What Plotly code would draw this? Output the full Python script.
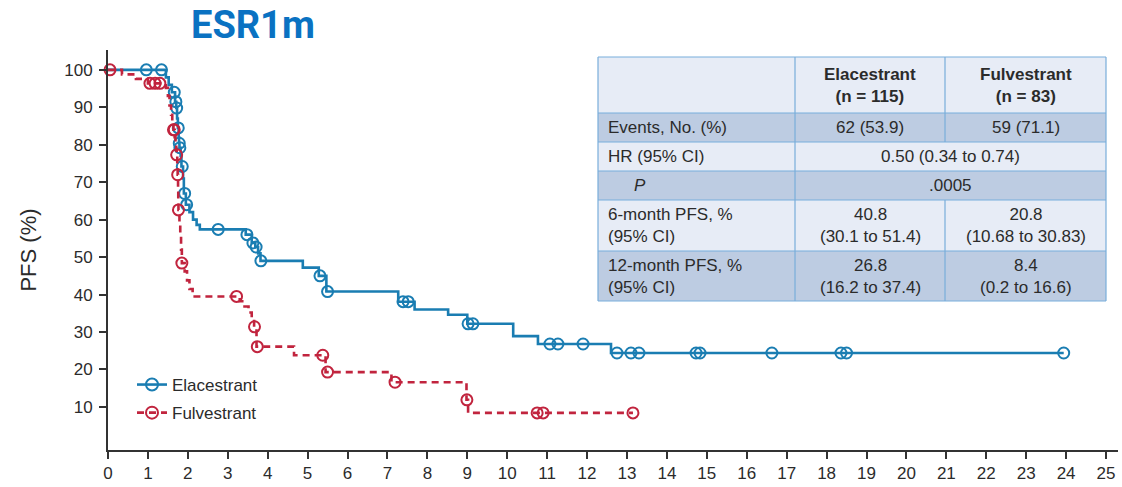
import numpy as np
import plotly.graph_objects as go

# Kaplan-Meier step points (months, % progression-free)
ela_times = [0, 1.45, 1.52, 1.60, 1.68, 1.71, 1.73, 1.75, 1.77, 1.78, 1.79, 1.82, 1.84,
             1.88, 1.90, 1.95, 2.04, 2.13, 2.22, 2.30, 3.45, 3.60, 3.69, 3.76, 3.82,
             4.88, 5.28, 5.47, 7.27, 7.68, 8.52, 9.00, 10.15, 10.77, 12.60, 23.94]
ela_surv = [100, 98, 96, 94, 91.5, 89.8, 87, 84.5, 82, 80.4, 79.2, 77, 74.2,
            71, 67, 64, 62, 60, 58.6, 57.4, 56, 53.8, 52.7, 51, 49,
            47.2, 45.0, 40.8, 38.1, 36.0, 34.6, 32.2, 28.9, 26.8, 24.4, 24.4]
ela_censor = [0.96, 1.34, 1.66, 1.70, 1.72, 1.76, 1.785, 1.80, 1.86, 1.92, 1.97, 2.76,
              3.48, 3.63, 3.71, 3.83, 5.31, 5.50, 7.39, 7.52, 9.02, 9.14, 11.07, 11.27,
              11.90, 12.75, 13.10, 13.30, 14.73, 14.83, 16.63, 18.36, 18.50, 23.94]

ful_times = [0, 0.35, 0.70, 1.00, 1.45, 1.50, 1.54, 1.58, 1.61, 1.64, 1.67, 1.69, 1.71,
             1.72, 1.735, 1.745, 1.755, 1.76, 1.765, 1.79, 1.81, 1.83, 1.85, 1.92, 1.98,
             2.04, 2.12, 3.30, 3.42, 3.52, 3.60, 3.66, 3.72, 4.66, 5.45, 7.10, 8.98,
             9.02, 13.15]
ful_surv = [100, 98.8, 97.6, 96.4, 95.2, 93, 90.5, 88, 85.8, 84, 82, 80.2, 78.5,
            77.3, 74.5, 72, 68, 65, 62.6, 59, 55.5, 52, 48.4, 46.2, 43.8,
            41.5, 39.5, 38.2, 36.8, 35.2, 33.5, 31.4, 26.1, 23.8, 19.3, 16.6, 11.9,
            8.4, 8.4]
ful_censor = [0.05, 1.05, 1.18, 1.30, 1.64, 1.66, 1.72, 1.745, 1.765, 1.85, 3.22,
              3.67, 3.74, 5.38, 5.50, 7.19, 8.99, 10.75, 10.90, 13.15]

arm_names = ["Elacestrant", "Fulvestrant"]
x_ticks = list(range(0, 26))
y_ticks = list(range(10, 101, 10))

# Summary table
table_header = ["", "<b>Elacestrant</b><br><b>(n = 115)</b>", "<b>Fulvestrant</b><br><b>(n = 83)</b>"]
table_rows = [
    ["Events, No. (%)", "62 (53.9)", "59 (71.1)"],
    ["HR (95% CI)", "0.50 (0.34 to 0.74)", None],
    ["<i>P</i>", ".0005", None],
    ["6-month PFS, %<br>(95% CI)", "40.8<br>(30.1 to 51.4)", "20.8<br>(10.68 to 30.83)"],
    ["12-month PFS, %<br>(95% CI)", "26.8<br>(16.2 to 37.4)", "8.4<br>(0.2 to 16.6)"],
]

BLUE = "#1A7DB2"
RED = "#C1243E"
TXT = "#2B2B2B"
W, H = 1122, 487
ML, MR, MT, MB = 108, 4, 50, 37


def surv_at(times, surv, t):
    i = np.searchsorted(np.asarray(times), t, side="right") - 1
    return float(np.asarray(surv)[i])


def px(xp):
    return (xp - ML) / (W - ML - MR)


def py(yp):
    return (H - MB - yp) / (H - MT - MB)


fig = go.Figure()

arms = [
    (arm_names[0], ela_times, ela_surv, ela_censor, BLUE, "solid"),
    (arm_names[1], ful_times, ful_surv, ful_censor, RED, "7px,5px"),
]
for name, t, s, c, col, dash in arms:
    fig.add_trace(go.Scatter(
        x=t, y=s, mode="lines", line=dict(color=col, width=2.6, shape="hv", dash=dash),
        showlegend=False, hoverinfo="skip", cliponaxis=False,
    ))
    fig.add_trace(go.Scatter(
        x=c, y=[surv_at(t, s, v) for v in c], mode="markers",
        marker=dict(symbol="circle-open", size=11, color=col, line=dict(width=2)),
        showlegend=False, hoverinfo="skip", cliponaxis=False,
    ))
for i, (name, t, s, c, col, dash) in enumerate(arms):
    fig.add_trace(go.Scatter(
        x=[None], y=[None], mode="lines+markers", name=name, legendgroup=name,
        line=dict(color=col, width=2.6, dash=dash),
        marker=dict(symbol="circle-open", size=12, color=col, line=dict(width=2)),
    ))

# Table cells
col_x = [598, 795, 945, 1106]
row_y = [57, 113, 142, 171, 200, 251, 301]
light, dark = "#E7ECF6", "#BDCCE2"
border = "#79AEDB"
shapes = []
annotations = []
row_fill = [light, dark, light, dark, light, dark]
for r in range(6):
    shapes.append(dict(type="rect", xref="paper", yref="paper",
                       x0=px(col_x[0]), x1=px(col_x[3]), y0=py(row_y[r + 1]), y1=py(row_y[r]),
                       fillcolor=row_fill[r], line=dict(width=0), layer="above"))
# horizontal rules
for yv in row_y:
    shapes.append(dict(type="line", xref="paper", yref="paper",
                       x0=px(col_x[0]), x1=px(col_x[3]), y0=py(yv), y1=py(yv),
                       line=dict(color=border, width=1.2), layer="above"))
# vertical rules (merged cells for HR and P rows)
for ci, xv in enumerate(col_x):
    if ci == 2:
        segs = [(row_y[0], row_y[2]), (row_y[4], row_y[6])]
    else:
        segs = [(row_y[0], row_y[6])]
    for a, b in segs:
        shapes.append(dict(type="line", xref="paper", yref="paper",
                           x0=px(xv), x1=px(xv), y0=py(a), y1=py(b),
                           line=dict(color=border, width=1.2), layer="above"))

font_t = dict(family="Liberation Sans, Arial, sans-serif", size=17, color=TXT)
for ci in (1, 2):
    annotations.append(dict(xref="paper", yref="paper", x=px((col_x[ci] + col_x[ci + 1]) / 2),
                            y=py((row_y[0] + row_y[1]) / 2 + 1), text=table_header[ci],
                            showarrow=False, font=font_t, xanchor="center", yanchor="middle",
                            align="center"))
for r, row in enumerate(table_rows):
    yc = py((row_y[r + 1] + row_y[r + 2]) / 2)
    x_first = 632 if r == 2 else 606
    annotations.append(dict(xref="paper", yref="paper", x=px(x_first), y=yc, text=row[0],
                            showarrow=False, font=font_t, xanchor="left", yanchor="middle",
                            align="left"))
    if row[2] is None:
        annotations.append(dict(xref="paper", yref="paper", x=px((col_x[1] + col_x[3]) / 2),
                                y=yc, text=row[1], showarrow=False, font=font_t,
                                xanchor="center", yanchor="middle", align="center"))
    else:
        for ci in (1, 2):
            annotations.append(dict(xref="paper", yref="paper",
                                    x=px((col_x[ci] + col_x[ci + 1]) / 2), y=yc, text=row[ci],
                                    showarrow=False, font=font_t, xanchor="center",
                                    yanchor="middle", align="center"))

# Title
annotations.append(dict(xref="paper", yref="paper", x=px(253), y=py(25), text="<b>ESR1m</b>",
                        showarrow=False, xanchor="center", yanchor="middle",
                        font=dict(family="Roboto, Arial, sans-serif", size=38, color="#0A72C2")))

axis_font = dict(family="Liberation Sans, Arial, sans-serif", size=17, color=TXT)
fig.update_layout(
    width=W, height=H,
    margin=dict(l=ML, r=MR, t=MT, b=MB, pad=0),
    paper_bgcolor="white", plot_bgcolor="white",
    showlegend=True,
    legend=dict(x=px(132), y=py(367), xanchor="left", yanchor="top",
                font=dict(family="Liberation Sans, Arial, sans-serif", size=17, color=TXT),
                bgcolor="rgba(0,0,0,0)", tracegroupgap=3, traceorder="grouped",
                itemclick=False, itemdoubleclick=False),
    shapes=shapes, annotations=annotations,
    hovermode=False,
    xaxis=dict(range=[0, 25.3], tickvals=x_ticks, ticktext=[str(v) for v in x_ticks],
               showgrid=False, zeroline=False, showline=True, linecolor="#333333",
               linewidth=2, ticks="outside", ticklen=7, tickwidth=1.5, tickcolor="#333333",
               tickfont=axis_font, fixedrange=True),
    yaxis=dict(range=[-1.5, 105.3], tickvals=y_ticks, ticktext=[str(v) for v in y_ticks],
               showgrid=False, zeroline=False, showline=True, linecolor="#333333",
               linewidth=2, ticks="outside", ticklen=7, tickwidth=1.5, tickcolor="#333333",
               tickfont=axis_font, ticklabelstandoff=3, fixedrange=True,
               title=dict(text="PFS (%)", font=dict(family="Liberation Sans, Arial, sans-serif",
                                                    size=22, color=TXT), standoff=22)),
)

fig.write_html("out.html", config={"displayModeBar": False})
